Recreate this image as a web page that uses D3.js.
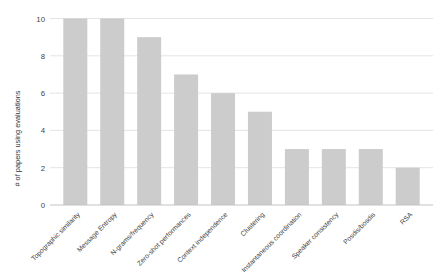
<!DOCTYPE html>
<html>
<head>
<meta charset="utf-8">
<script src="https://cdn.jsdelivr.net/npm/d3@7"></script>
<style>
  body { margin: 0; background: #fff; }
  svg { font-family: "Liberation Sans", Arial, sans-serif; }
</style>
</head>
<body>
<div id="chart"></div>
<script>
const categories = [
  'Topographic similarity', 'Message Entropy', 'N-grams/frequency',
  'Zero-shot performances', 'Context independence', 'Clustering',
  'Instantaneous coordination', 'Speaker consistency', 'Posdis/bosdis', 'RSA'
];
const counts = [10, 10, 9, 7, 6, 5, 3, 3, 3, 2];
const yTicks = [0, 2, 4, 6, 8, 10];

const width = 447, height = 277;
const margin = { top: 18.5, right: 14, bottom: 72, left: 50 };

const svg = d3.select('#chart').append('svg')
  .attr('width', width)
  .attr('height', height);

const x = d3.scaleBand()
  .domain(categories)
  .range([margin.left, width - margin.right])
  .paddingInner(0.35)
  .paddingOuter(0.36);

const y = d3.scaleLinear()
  .domain([0, 10])
  .range([height - margin.bottom, margin.top]);

// gridlines
svg.append('g')
  .selectAll('line')
  .data(yTicks.filter(d => d > 0))
  .join('line')
  .attr('x1', margin.left)
  .attr('x2', width - margin.right)
  .attr('y1', d => y(d))
  .attr('y2', d => y(d))
  .attr('stroke', '#e4e4e4')
  .attr('stroke-width', 1);

// bars
svg.append('g')
  .selectAll('rect')
  .data(counts)
  .join('rect')
  .attr('x', (d, i) => x(categories[i]))
  .attr('y', d => y(d))
  .attr('width', x.bandwidth())
  .attr('height', d => y(0) - y(d))
  .attr('fill', '#cccccc');

// baseline
svg.append('line')
  .attr('x1', margin.left)
  .attr('x2', width - margin.right)
  .attr('y1', y(0))
  .attr('y2', y(0))
  .attr('stroke', '#c4c4c4')
  .attr('stroke-width', 1.2);

// y axis labels
const yAxis = d3.axisLeft(y).tickValues(yTicks).tickSize(0).tickPadding(5);
svg.append('g')
  .attr('transform', `translate(${margin.left},0)`)
  .call(yAxis)
  .call(g => g.select('.domain').remove())
  .selectAll('text')
  .attr('font-size', 7.8)
  .attr('fill', '#444');

// x axis labels
const xAxis = d3.axisBottom(x).tickSize(0).tickPadding(0);
svg.append('g')
  .attr('transform', `translate(0,${y(0)})`)
  .call(xAxis)
  .call(g => g.select('.domain').remove())
  .selectAll('text')
  .attr('font-size', 6.8)
  .attr('fill', '#444')
  .style('text-anchor', 'end')
  .attr('dx', 0)
  .attr('dy', 0)
  .attr('transform', 'translate(5,10) rotate(-45)');

// axis title
svg.append('text')
  .attr('transform', `translate(20,138.5) rotate(-90)`)
  .attr('text-anchor', 'middle')
  .attr('font-size', 7.4)
  .attr('fill', '#333')
  .text('# of papers using evaluations');
</script>
</body>
</html>
